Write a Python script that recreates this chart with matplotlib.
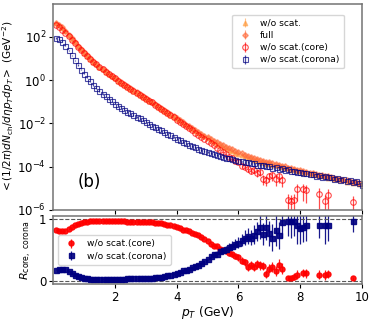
import numpy as np
import matplotlib.pyplot as plt

# pT bin centres (GeV)
pt = [0.1, 0.2, 0.3, 0.4, 0.5, 0.6, 0.7, 0.8, 0.9, 1.0,
      1.1, 1.2, 1.3, 1.4, 1.5, 1.6, 1.7, 1.8, 1.9, 2.0,
      2.1, 2.2, 2.3, 2.4, 2.5, 2.6, 2.7, 2.8, 2.9, 3.0,
      3.1, 3.2, 3.3, 3.4, 3.5, 3.6, 3.7, 3.8, 3.9, 4.0,
      4.1, 4.2, 4.3, 4.4, 4.5, 4.6, 4.7, 4.8, 4.9, 5.0,
      5.1, 5.2, 5.3, 5.4, 5.5, 5.6, 5.7, 5.8, 5.9, 6.0,
      6.1, 6.2, 6.3, 6.4, 6.5, 6.6, 6.7, 6.8, 6.9, 7.0,
      7.1, 7.2, 7.3, 7.4, 7.5, 7.6, 7.7, 7.8, 7.9, 8.0,
      8.1, 8.2, 8.3, 8.4, 8.5, 8.6, 8.7, 8.8, 8.9, 9.0,
      9.1, 9.2, 9.3, 9.4, 9.5, 9.6, 9.7, 9.8, 9.9, 10.0]

nan = np.nan

# log10 of the spectra
wo_log = [2.63, 2.54, 2.42, 2.26, 2.09, 1.92, 1.75, 1.58, 1.42, 1.27,
          1.13, 0.99, 0.86, 0.73, 0.61, 0.50, 0.39, 0.28, 0.18, 0.08,
          -0.02, -0.12, -0.21, -0.30, -0.39, -0.48, -0.57, -0.67, -0.76, -0.85,
          -0.94, -1.03, -1.12, -1.22, -1.31, -1.41, -1.50, -1.60, -1.69, -1.79,
          -1.88, -1.97, -2.07, -2.16, -2.25, -2.34, -2.43, -2.52, -2.60, -2.69,
          -2.77, -2.85, -2.93, -3.00, -3.08, -3.15, -3.22, -3.28, -3.35, -3.41,
          -3.47, -3.50, -3.58, -3.60, -3.69, -3.68, -3.78, -3.77, -3.86, -3.85,
          -3.92, -3.93, -3.99, -4.00, -4.08, -4.05, -4.15, -4.12, -4.20, -4.19,
          -4.27, -4.24, -4.33, -4.31, -4.39, -4.37, -4.45, -4.43, -4.51, -4.49,
          -4.58, -4.54, -4.63, -4.59, -4.69, -4.65, -4.74, -4.70, -4.80, -4.76]

full_log = [2.65, 2.56, 2.44, 2.28, 2.11, 1.94, 1.77, 1.60, 1.44, 1.29,
            1.15, 1.01, 0.88, 0.75, 0.63, 0.52, 0.41, 0.30, 0.20, 0.10,
            0.00, -0.10, -0.19, -0.28, -0.37, -0.46, -0.55, -0.65, -0.74, -0.83,
            -0.92, -1.01, -1.10, -1.20, -1.29, -1.39, -1.48, -1.58, -1.67, -1.77,
            -1.86, -1.95, -2.05, -2.14, -2.23, -2.31, -2.40, -2.48, -2.56, -2.64,
            -2.72, -2.79, -2.87, -2.94, -3.01, -3.08, -3.14, -3.20, -3.27, -3.33,
            -3.38, -3.44, -3.49, -3.55, -3.60, -3.63, -3.69, -3.72, -3.77, -3.80,
            -3.85, -3.88, -3.92, -3.97, -3.99, -4.04, -4.07, -4.10, -4.15, -4.17,
            -4.21, -4.24, -4.27, -4.31, -4.33, -4.37, -4.40, -4.43, -4.45, -4.49,
            -4.52, -4.55, -4.57, -4.61, -4.63, -4.67, -4.70, -4.72, -4.76, -4.80]

core_log = [2.57, 2.47, 2.34, 2.19, 2.03, 1.87, 1.71, 1.55, 1.39, 1.25,
            1.11, 0.98, 0.85, 0.73, 0.61, 0.50, 0.39, 0.28, 0.18, 0.08,
            -0.02, -0.12, -0.21, -0.30, -0.39, -0.48, -0.57, -0.67, -0.76, -0.85,
            -0.94, -1.03, -1.13, -1.22, -1.32, -1.42, -1.52, -1.62, -1.72, -1.82,
            -1.92, -2.02, -2.12, -2.22, -2.32, -2.42, -2.52, -2.62, -2.72, -2.82,
            -2.92, -3.02, -3.12, -3.22, -3.32, -3.42, -3.55, -3.62, -3.72, -3.80,
            -3.95, -4.00, -4.10, -4.20, -4.15, -4.30, -4.25, -4.55, -4.60, -4.45,
            -4.40, -4.55, -4.45, -4.60, nan, -5.55, -5.58, -5.55, -5.05, nan,
            -5.05, -5.10, nan, nan, nan, -5.25, nan, -5.58, -5.30, nan,
            nan, nan, nan, nan, nan, nan, -5.63, nan, nan, nan]

corona_log = [1.95, 1.90, 1.78, 1.60, 1.38, 1.15, 0.92, 0.70, 0.49, 0.30,
              0.12, -0.05, -0.21, -0.36, -0.50, -0.63, -0.75, -0.87, -0.98, -1.08,
              -1.18, -1.27, -1.36, -1.45, -1.53, -1.61, -1.69, -1.77, -1.85, -1.92,
              -2.02, -2.10, -2.17, -2.25, -2.32, -2.40, -2.47, -2.55, -2.62, -2.70,
              -2.77, -2.85, -2.92, -2.98, -3.04, -3.10, -3.16, -3.22, -3.27, -3.32,
              -3.37, -3.42, -3.46, -3.51, -3.55, -3.59, -3.62, -3.66, -3.69, -3.72,
              -3.75, -3.80, -3.78, -3.85, -3.84, -3.90, -3.92, -3.91, -3.99, -3.97,
              -4.04, -4.02, -4.10, -4.08, -4.14, -4.13, -4.20, -4.18, -4.26, -4.23,
              -4.30, -4.28, -4.36, -4.33, -4.41, -4.39, -4.46, -4.44, -4.50, -4.49,
              -4.55, -4.53, -4.60, -4.57, -4.65, -4.62, -4.70, -4.67, -4.75, -4.85]

# relative errors on the core spectrum
core_err = [0.0] * 50 + [
            0.05, 0.05, 0.06, 0.06, 0.08, 0.08, 0.10, 0.10, 0.12, 0.15,
            0.20, 0.25, 0.25, 0.30, 0.30, 0.35, 0.35, 0.50, 0.50, 0.45,
            0.45, 0.55, 0.50, 0.55, nan, 0.90, 0.90, 0.90, 0.70, nan,
            0.70, 0.75, nan, nan, nan, 0.80, nan, 0.90, 0.80, nan,
            nan, nan, nan, nan, nan, nan, 0.90, nan, nan, nan]

# core / corona fractions (lower panel)
r_core = [0.83, 0.81, 0.80, 0.81, 0.84, 0.87, 0.90, 0.92, 0.94, 0.95,
          0.96, 0.965, 0.97, 0.97, 0.97, 0.97, 0.97, 0.97, 0.97, 0.97,
          0.97, 0.97, 0.97, 0.96, 0.96, 0.96, 0.96, 0.96, 0.96, 0.95,
          0.95, 0.95, 0.94, 0.94, 0.93, 0.92, 0.91, 0.90, 0.89, 0.87,
          0.85, 0.83, 0.82, 0.80, 0.78, 0.76, 0.74, 0.71, 0.68, 0.65,
          0.60, 0.57, 0.56, 0.52, 0.50, 0.48, 0.45, 0.43, 0.40, 0.38,
          0.33, 0.30, 0.22, 0.26, 0.22, 0.27, 0.25, 0.24, 0.11, 0.20,
          0.22, 0.16, 0.26, 0.20, nan, 0.05, 0.05, 0.07, 0.10, nan,
          0.13, 0.12, nan, nan, nan, 0.10, nan, 0.10, 0.11, nan,
          nan, nan, nan, nan, nan, nan, 0.04, nan, nan, nan]

r_corona = [0.18, 0.19, 0.20, 0.19, 0.16, 0.13, 0.10, 0.08, 0.06, 0.05,
            0.04, 0.035, 0.03, 0.03, 0.03, 0.03, 0.03, 0.03, 0.03, 0.03,
            0.03, 0.03, 0.03, 0.04, 0.04, 0.04, 0.04, 0.04, 0.04, 0.05,
            0.05, 0.05, 0.06, 0.06, 0.07, 0.08, 0.09, 0.10, 0.11, 0.13,
            0.15, 0.17, 0.18, 0.20, 0.22, 0.24, 0.26, 0.29, 0.32, 0.35,
            0.40, 0.43, 0.44, 0.48, 0.50, 0.52, 0.55, 0.57, 0.60, 0.62,
            0.66, 0.70, 0.72, 0.70, 0.75, 0.80, 0.87, 0.76, 0.88, 0.77,
            0.70, 0.82, 0.74, 0.95, nan, 0.97, 0.97, 0.97, 0.90, 0.85,
            0.88, 0.90, nan, nan, nan, 0.91, nan, 0.90, 0.90, nan,
            nan, nan, nan, nan, nan, nan, 0.97, nan, nan, nan]

r_core_err = [0.01] * 50 + [
              0.02, 0.02, 0.02, 0.03, 0.03, 0.03, 0.04, 0.04, 0.04, 0.05,
              0.05, 0.06, 0.06, 0.06, 0.06, 0.07, 0.07, 0.07, 0.06, 0.08,
              0.08, 0.08, 0.09, 0.09, nan, 0.03, 0.03, 0.05, 0.07, nan,
              0.07, 0.07, nan, nan, nan, 0.07, nan, 0.08, 0.07, nan,
              nan, nan, nan, nan, nan, nan, 0.03, nan, nan, nan]

r_corona_err = [0.01] * 50 + [
                0.03, 0.03, 0.04, 0.04, 0.05, 0.05, 0.06, 0.07, 0.08, 0.09,
                0.10, 0.12, 0.13, 0.12, 0.15, 0.16, 0.20, 0.18, 0.22, 0.20,
                0.22, 0.25, 0.22, 0.25, nan, 0.25, 0.28, 0.25, 0.30, 0.25,
                0.25, 0.25, nan, nan, nan, 0.22, nan, 0.30, 0.25, nan,
                nan, nan, nan, nan, nan, nan, 0.18, nan, nan, nan]

pt = np.array(pt)
wo = 10 ** np.array(wo_log)
full = 10 ** np.array(full_log)
core = 10 ** np.array(core_log)
corona = 10 ** np.array(corona_log)
core_e = core * np.array(core_err)

fig = plt.figure(figsize=(3.74, 3.2), dpi=100)
ax1 = fig.add_axes([0.142, 0.344, 0.826, 0.644])
ax2 = fig.add_axes([0.142, 0.1125, 0.826, 0.2125], sharex=ax1)

ax1.errorbar(pt, wo, yerr=wo * 0.05, fmt='^', color='#ff9a3c', ms=3.2, alpha=0.6,
             elinewidth=0.8, label='w/o scat.')
ax1.errorbar(pt, full, yerr=full * 0.05, fmt='D', color='#ff6a3a', ms=2.8, alpha=0.6,
             elinewidth=0.8, label='full')
ax1.errorbar(pt, core, yerr=core_e, fmt='o', mfc='none', mec='red', color='red',
             ms=4, alpha=0.7, mew=0.8, elinewidth=0.9, label='w/o scat.(core)')
ax1.errorbar(pt, corona, yerr=corona * 0.08, fmt='s', mfc='none', mec='navy', color='navy',
             ms=3.6, alpha=0.7, mew=0.8, elinewidth=0.9, label='w/o scat.(corona)')

ax1.set_yscale('log')
ax1.set_ylim(1e-6, 3.4e3)
ax1.set_yticks([1e-6, 1e-4, 1e-2, 1e0, 1e2])
ax1.minorticks_off()
ax1.tick_params(labelbottom=False, labelsize=8.5, length=3, pad=2)
ax1.set_ylabel(r'$<(1/2\pi)dN_{\rm ch}/d\eta p_T dp_T>$ (GeV$^{-2}$)', fontsize=7.6,
               labelpad=1)
ax1.text(0.8, 1.2e-5, '(b)', fontsize=12)
ax1.legend(loc='upper right', fontsize=6.6, handletextpad=0.6, borderpad=0.45,
           labelspacing=0.35, bbox_to_anchor=(0.955, 0.97))

ax2.errorbar(pt, r_core, yerr=r_core_err, fmt='o', color='red', ms=3.6,
             elinewidth=0.9, alpha=0.9, label='w/o scat.(core)')
ax2.errorbar(pt, r_corona, yerr=r_corona_err, fmt='s', color='navy', ms=3.6,
             elinewidth=0.9, alpha=0.9, label='w/o scat.(corona)')
ax2.axhline(1, color='0.35', ls='--', lw=0.8)
ax2.axhline(0, color='0.35', ls='--', lw=0.8)
ax2.set_ylim(-0.05, 1.05)
ax2.set_yticks([0, 1])
ax2.set_xlim(0, 10)
ax2.set_xticks([2, 4, 6, 8, 10])
ax2.tick_params(labelsize=8.5, length=3, pad=2)
ax2.set_xlabel(r'$p_T$ (GeV)', fontsize=8.8, labelpad=0)
ax2.set_ylabel(r'$R_{\rm core,\ corona}$', fontsize=8.0, labelpad=3)
ax2.legend(loc='center left', fontsize=6.6, borderpad=0.45, labelspacing=0.35,
           bbox_to_anchor=(0.0, 0.5))

for ax in (ax1, ax2):
    for s in ax.spines.values():
        s.set_color('0.45')
        s.set_linewidth(1.1)

fig.savefig('out.png', dpi=100)
